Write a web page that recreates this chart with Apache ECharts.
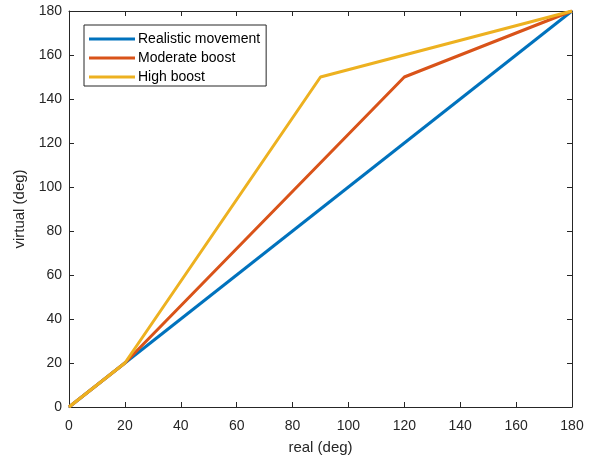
<!DOCTYPE html>
<html><head><meta charset="utf-8">
<script src="https://cdn.jsdelivr.net/npm/echarts@6/dist/echarts.min.js"></script>
<style>html,body{margin:0;padding:0;background:#fff}#c{width:592px;height:456px}</style>
</head><body><div id="c"></div>
<script>
const seriesNames = ['Realistic movement', 'Moderate boost', 'High boost'];
const realistic = [[0, 0], [180, 180]];
const moderate = [[0, 0], [20, 20], [120, 150], [180, 180]];
const high = [[0, 0], [20, 20], [90, 150], [180, 180]];
const colors = ['#0072BD', '#D95319', '#EDB120'];
const font = 'Liberation Sans, Arial, Helvetica, sans-serif';

const chart = echarts.init(document.getElementById('c'));
const axisCommon = {
  min: 0, max: 180, interval: 20,
  axisLine: { show: true, onZero: false, lineStyle: { color: '#262626', width: 1 } },
  axisTick: { show: true, inside: true, length: 5, lineStyle: { color: '#262626' } },
  splitLine: { show: false },
};
chart.setOption({
  animation: false,
  grid: { left: 69, right: 20, top: 11, bottom: 49, containLabel: false, outerBoundsMode: 'none' },
  legend: {
    orient: 'vertical', left: 84, top: 25,
    data: seriesNames,
    icon: 'rect', itemWidth: 46, itemHeight: 3, itemGap: 5,
    borderColor: '#262626', borderWidth: 1, padding: [7, 6, 2, 5],
    backgroundColor: '#fff',
    textStyle: { fontFamily: font, fontSize: 14, lineHeight: 14, color: '#000', padding: [0, 0, 0, -2] }
  },
  xAxis: [
    Object.assign({ type: 'value', position: 'bottom',
      name: 'real (deg)', nameLocation: 'middle', nameGap: 33,
      nameTextStyle: { fontFamily: font, fontSize: 15, color: '#262626' },
      axisLabel: { fontFamily: font, fontSize: 14, color: '#262626', margin: 12 } }, axisCommon),
    Object.assign({ type: 'value', position: 'top', axisLabel: { show: false } }, axisCommon)
  ],
  yAxis: [
    Object.assign({ type: 'value', position: 'left',
      name: 'virtual (deg)', nameLocation: 'middle', nameGap: 36,
      nameTextStyle: { fontFamily: font, fontSize: 15, color: '#262626' },
      axisLabel: { fontFamily: font, fontSize: 14, color: '#262626', margin: 7 } }, axisCommon),
    Object.assign({ type: 'value', position: 'right', axisLabel: { show: false } }, axisCommon)
  ],
  series: [realistic, moderate, high].map((d, i) => ({
    name: seriesNames[i], type: 'line', data: d, showSymbol: false, symbol: 'none',
    lineStyle: { color: colors[i], width: 3 }, itemStyle: { color: colors[i] }
  }))
});
</script></body></html>
